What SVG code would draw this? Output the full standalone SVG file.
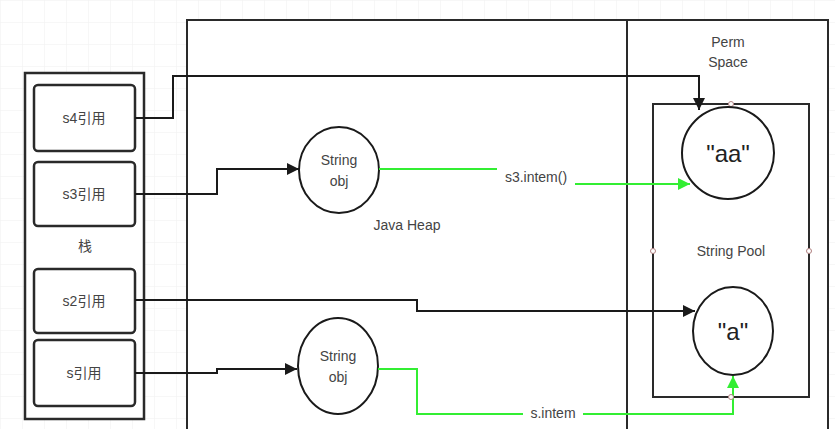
<svg xmlns="http://www.w3.org/2000/svg" width="835" height="429" viewBox="0 0 835 429">
<defs>
<pattern id="grid" width="22" height="22" patternUnits="userSpaceOnUse">
<path d="M22 0 L0 0 0 22" fill="none" stroke="#efefef" stroke-width="1"/>
</pattern>
<marker id="arrB" viewBox="0 0 10 10" refX="10" refY="5" markerWidth="6" markerHeight="6" orient="auto" markerUnits="strokeWidth">
<path d="M0 0 L10 5 L0 10 Z" fill="#1a1a1a"/>
</marker>
<marker id="arrG" viewBox="0 0 10 10" refX="10" refY="5" markerWidth="6" markerHeight="6" orient="auto" markerUnits="strokeWidth">
<path d="M0 0 L10 5 L0 10 Z" fill="#33ee33"/>
</marker>
</defs>
<style>
.frame{fill:#fff;stroke:#2a2a2a;stroke-width:2}
.ref{fill:#fff;stroke:#2a2a2a;stroke-width:2.5}
.node{fill:#fff;stroke:#1a1a1a;stroke-width:2}
.t{font-family:"Liberation Sans","Noto Sans CJK SC",sans-serif;font-size:14px;fill:#444;text-anchor:middle}
.big{font-family:"Liberation Sans",sans-serif;font-size:24px;fill:#222;text-anchor:middle}
.blk{fill:none;stroke:#1a1a1a;stroke-width:2}
.grn{fill:none;stroke:#33ee33;stroke-width:2}
.pt{fill:#fff;stroke:#b08080;stroke-width:1}
</style>
<rect width="835" height="429" fill="url(#grid)"/>
<g id="heap">
<rect class="frame" x="187" y="20" width="641" height="420"/>
<line x1="627" y1="20" x2="627" y2="440" stroke="#2a2a2a" stroke-width="2"/>
<text class="t" x="407" y="230">Java Heap</text>
<text class="t" x="728" y="47">Perm</text>
<text class="t" x="728" y="67">Space</text>
</g>
<g id="stack">
<rect class="ref" x="25" y="73" width="119" height="346"/>
<text class="t" x="85" y="251">栈</text>
</g>
<g id="s4ref"><rect class="ref" x="34" y="85" width="101" height="66" rx="4"/><text class="t" x="84" y="123">s4引用</text></g>
<g id="s3ref"><rect class="ref" x="34" y="162" width="101" height="64" rx="4"/><text class="t" x="84" y="199">s3引用</text></g>
<g id="s2ref"><rect class="ref" x="34" y="269" width="101" height="64" rx="4"/><text class="t" x="84" y="306">s2引用</text></g>
<g id="sref"><rect class="ref" x="34" y="340" width="101" height="66" rx="4"/><text class="t" x="84" y="378">s引用</text></g>
<g id="pool">
<rect class="frame" x="653" y="104" width="156" height="293"/>
<text class="t" x="731" y="256">String Pool</text>
<circle class="pt" cx="731" cy="104" r="2.5"/>
<circle class="pt" cx="653" cy="251" r="2.5"/>
<circle class="pt" cx="809" cy="251" r="2.5"/>
</g>
<g id="obj1"><ellipse class="node" cx="339" cy="170" rx="40" ry="43"/><text class="t" x="339" y="165">String</text><text class="t" x="339" y="186">obj</text></g>
<g id="obj2"><ellipse class="node" cx="338" cy="366" rx="40" ry="48"/><text class="t" x="338" y="361">String</text><text class="t" x="338" y="382">obj</text></g>
<g id="aa"><ellipse class="node" cx="728" cy="153" rx="46" ry="46"/><text class="big" x="728" y="162">"aa"</text></g>
<g id="a"><ellipse class="node" cx="733" cy="331" rx="40" ry="44"/><text class="big" x="733" y="340">"a"</text></g>
<g id="connectors">
<path class="blk" d="M135 118 H173 V76 H699 V110" marker-end="url(#arrB)"/>
<path class="blk" d="M135 194 H217 V169 H299" marker-end="url(#arrB)"/>
<path class="blk" d="M135 300 H417 V311 H695" marker-end="url(#arrB)"/>
<path class="blk" d="M135 373 H217 V369 H297" marker-end="url(#arrB)"/>
<path class="grn" d="M379 169 H537 V184 H690" marker-end="url(#arrG)"/>
<rect x="497" y="168" width="78" height="18" fill="#fff"/>
<text class="t" x="536" y="182">s3.intem()</text>
<path class="grn" d="M378 369 H417 V414 H733 V376" marker-end="url(#arrG)"/>
<rect x="523" y="406" width="60" height="16" fill="#fff"/>
<text class="t" x="553" y="418">s.intem</text>
<circle class="pt" cx="731" cy="397" r="2.5"/>
</g>
</svg>
